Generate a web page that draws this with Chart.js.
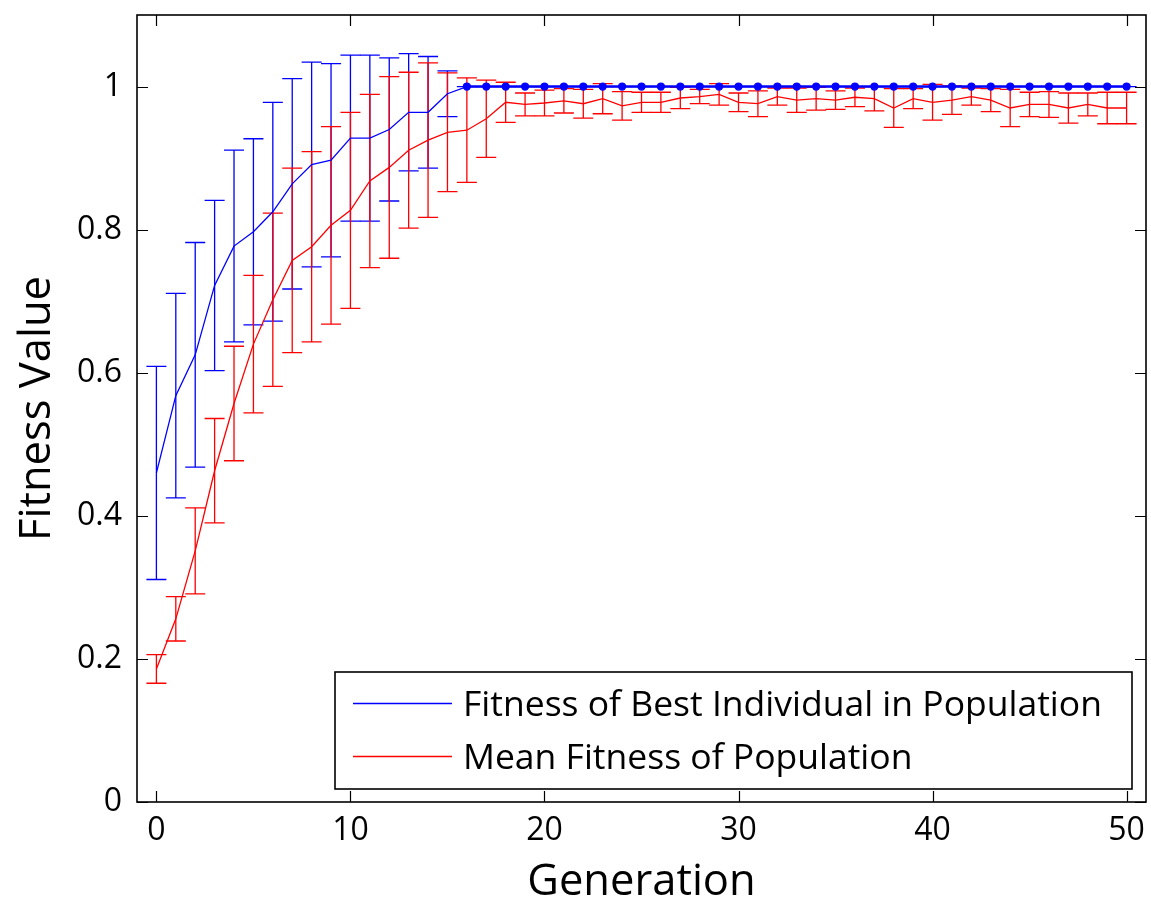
<!DOCTYPE html>
<html>
<head>
<meta charset="utf-8">
<script src="https://cdn.jsdelivr.net/npm/chart.js@4.4.0/dist/chart.umd.min.js"></script>
<style>
  html, body { margin: 0; padding: 0; background: #fff; }
  #wrap { width: 1151px; height: 906px; position: relative; }
</style>
</head>
<body>
<div id="wrap"><canvas id="chart"></canvas></div>
<script>
// generations on the x axis
const generations = [0, 1, 2, 3, 4, 5, 6, 7, 8, 9, 10, 11, 12, 13, 14, 15, 16, 17, 18, 19, 20,
  21, 22, 23, 24, 25, 26, 27, 28, 29, 30, 31, 32, 33, 34, 35, 36, 37, 38, 39, 40,
  41, 42, 43, 44, 45, 46, 47, 48, 49, 50];

// best individual: mean and error (half bar length)
const bestFitness = [0.460, 0.568, 0.625, 0.722, 0.777, 0.797, 0.825, 0.864, 0.891, 0.897,
  0.928, 0.928, 0.940, 0.964, 0.964, 0.990, 1, 1, 1, 1,
  1, 1, 1, 1, 1, 1, 1, 1, 1, 1,
  1, 1, 1, 1, 1, 1, 1, 1, 1, 1,
  1, 1, 1, 1, 1, 1, 1, 1, 1, 1, 1];
const bestErr = [0.149, 0.143, 0.157, 0.119, 0.134, 0.130, 0.153, 0.147, 0.143, 0.135,
  0.116, 0.116, 0.100, 0.082, 0.078, 0.032, 0, 0, 0, 0,
  0, 0, 0, 0, 0, 0, 0, 0, 0, 0,
  0, 0, 0, 0, 0, 0, 0, 0, 0, 0,
  0, 0, 0, 0, 0, 0, 0, 0, 0, 0, 0];

// mean fitness of population
const meanFitness = [0.186, 0.256, 0.351, 0.463, 0.557, 0.640, 0.702, 0.757, 0.776, 0.806,
  0.827, 0.868, 0.887, 0.911, 0.925, 0.936, 0.939, 0.955, 0.978, 0.975,
  0.977, 0.980, 0.976, 0.983, 0.973, 0.978, 0.978, 0.984, 0.986, 0.989,
  0.978, 0.976, 0.986, 0.981, 0.983, 0.981, 0.985, 0.983, 0.970, 0.983,
  0.978, 0.981, 0.986, 0.981, 0.970, 0.975, 0.975, 0.970, 0.975, 0.970, 0.970];
const meanErr = [0.020, 0.031, 0.060, 0.073, 0.080, 0.096, 0.121, 0.129, 0.133, 0.138,
  0.137, 0.121, 0.127, 0.109, 0.108, 0.083, 0.073, 0.054, 0.028, 0.016,
  0.018, 0.017, 0.020, 0.021, 0.020, 0.014, 0.014, 0.015, 0.010, 0.015,
  0.013, 0.018, 0.012, 0.017, 0.016, 0.013, 0.013, 0.017, 0.027, 0.014,
  0.025, 0.020, 0.012, 0.016, 0.026, 0.017, 0.018, 0.021, 0.016, 0.022, 0.022];

const xTicks = [0, 10, 20, 30, 40, 50];
const yTicks = [0, 0.2, 0.4, 0.6, 0.8, 1];
const yTickLabels = ["0", "0.2", "0.4", "0.6", "0.8", "1"];
const seriesLabels = ["Fitness of Best Individual in Population", "Mean Fitness of Population"];

const BLUE = "#0000ff";
const RED = "#ff0000";
const FONT = "'Open Sans', 'DejaVu Sans', sans-serif";

const pts = (ys) => generations.map((g, i) => ({ x: g, y: ys[i] }));

// error bars, inner tick marks, axes box and the legend
const extras = {
  id: "extras",
  beforeDatasetsDraw(chart) {
    const { ctx, scales: { x, y } } = chart;
    const sets = [[bestFitness, bestErr, BLUE], [meanFitness, meanErr, RED]];
    ctx.save();
    ctx.lineWidth = 1.3;
    sets.forEach(([vals, errs, color]) => {
      ctx.strokeStyle = color;
      vals.forEach((v, i) => {
        const px = x.getPixelForValue(generations[i]);
        const top = y.getPixelForValue(v + errs[i]);
        const bot = y.getPixelForValue(v - errs[i]);
        ctx.beginPath();
        ctx.moveTo(px, top); ctx.lineTo(px, bot);
        ctx.moveTo(px - 10, top); ctx.lineTo(px + 10, top);
        ctx.moveTo(px - 10, bot); ctx.lineTo(px + 10, bot);
        ctx.stroke();
      });
    });
    ctx.restore();
  },
  afterDraw(chart) {
    const { ctx, chartArea: a, scales: { x, y } } = chart;
    ctx.save();
    ctx.strokeStyle = "#000";
    ctx.lineWidth = 1.2;
    ctx.beginPath();
    xTicks.forEach(v => {
      const px = Math.round(x.getPixelForValue(v)) + 0.5;
      ctx.moveTo(px, a.bottom); ctx.lineTo(px, a.bottom - 11);
      ctx.moveTo(px, a.top); ctx.lineTo(px, a.top + 11);
    });
    yTicks.forEach(v => {
      const py = Math.round(y.getPixelForValue(v)) + 0.5;
      ctx.moveTo(a.left, py); ctx.lineTo(a.left + 11, py);
      ctx.moveTo(a.right, py); ctx.lineTo(a.right - 11, py);
    });
    ctx.stroke();

    ctx.lineWidth = 1.6;
    ctx.strokeRect(a.left, a.top, a.right - a.left, a.bottom - a.top);

    // legend box
    const lx = 335, ly = 672, lw = 797, lh = 117;
    ctx.fillStyle = "#fff";
    ctx.fillRect(lx, ly, lw, lh);
    ctx.lineWidth = 1.6;
    ctx.strokeRect(lx, ly, lw, lh);
    const rows = [[BLUE, 703.5], [RED, 756.5]];
    ctx.font = "35.5px " + FONT;
    ctx.textBaseline = "middle";
    ctx.textAlign = "left";
    rows.forEach(([c, ry], i) => {
      ctx.strokeStyle = c;
      ctx.lineWidth = 1.3;
      ctx.beginPath();
      ctx.moveTo(353, ry); ctx.lineTo(452, ry);
      ctx.stroke();
      ctx.fillStyle = "#000";
      ctx.fillText(seriesLabels[i], 463, ry + 2);
    });
    ctx.restore();
  }
};

new Chart(document.getElementById("chart"), {
  type: "line",
  data: {
    datasets: [
      {
        label: seriesLabels[0],
        data: pts(bestFitness),
        borderColor: BLUE,
        backgroundColor: BLUE,
        borderWidth: 1.3,
        pointRadius: bestErr.map(e => (e === 0 ? 3.5 : 0)),
        pointHoverRadius: 0,
        segment: { borderWidth: c => (bestErr[c.p0DataIndex] === 0 ? 2.6 : 1.3) },
        tension: 0,
      },
      {
        label: seriesLabels[1],
        data: pts(meanFitness),
        borderColor: RED,
        backgroundColor: RED,
        borderWidth: 1.3,
        pointRadius: 0,
        tension: 0,
      },
    ],
  },
  options: {
    responsive: true,
    maintainAspectRatio: false,
    animation: false,
    events: [],
    layout: { padding: { top: 15, right: 5, left: 0, bottom: 0 } },
    plugins: { legend: { display: false }, tooltip: { enabled: false } },
    scales: {
      x: {
        type: "linear",
        min: -1,
        max: 51,
        grid: { display: false, drawTicks: false },
        border: { display: false },
        afterBuildTicks: s => { s.ticks = xTicks.map(v => ({ value: v })); },
        afterFit: s => { s.height = 104; s.paddingLeft = 0; s.paddingRight = 0; },
        ticks: {
          color: "#000",
          padding: 10,
          maxRotation: 0,
          font: { family: FONT, size: 32 },
          callback: v => String(v),
        },
        title: {
          display: true,
          text: "Generation",
          color: "#000",
          font: { family: FONT, size: 43.5, lineHeight: 1 },
          padding: { top: 0, bottom: 2 },
        },
      },
      y: {
        type: "linear",
        min: 0,
        max: 1.1,
        grid: { display: false, drawTicks: false },
        border: { display: false },
        afterBuildTicks: s => { s.ticks = yTicks.map(v => ({ value: v })); },
        afterFit: s => { s.width = 137; s.paddingTop = 0; s.paddingBottom = 0; },
        ticks: {
          color: "#000",
          padding: 15,
          font: { family: FONT, size: 32 },
          callback: (v) => yTickLabels[yTicks.findIndex(t => Math.abs(t - v) < 1e-9)],
        },
        title: {
          display: true,
          text: "Fitness Value",
          color: "#000",
          font: { family: FONT, size: 43.5, lineHeight: 1 },
          padding: { top: 16, bottom: 0 },
        },
      },
    },
  },
  plugins: [extras],
});
</script>
</body>
</html>
